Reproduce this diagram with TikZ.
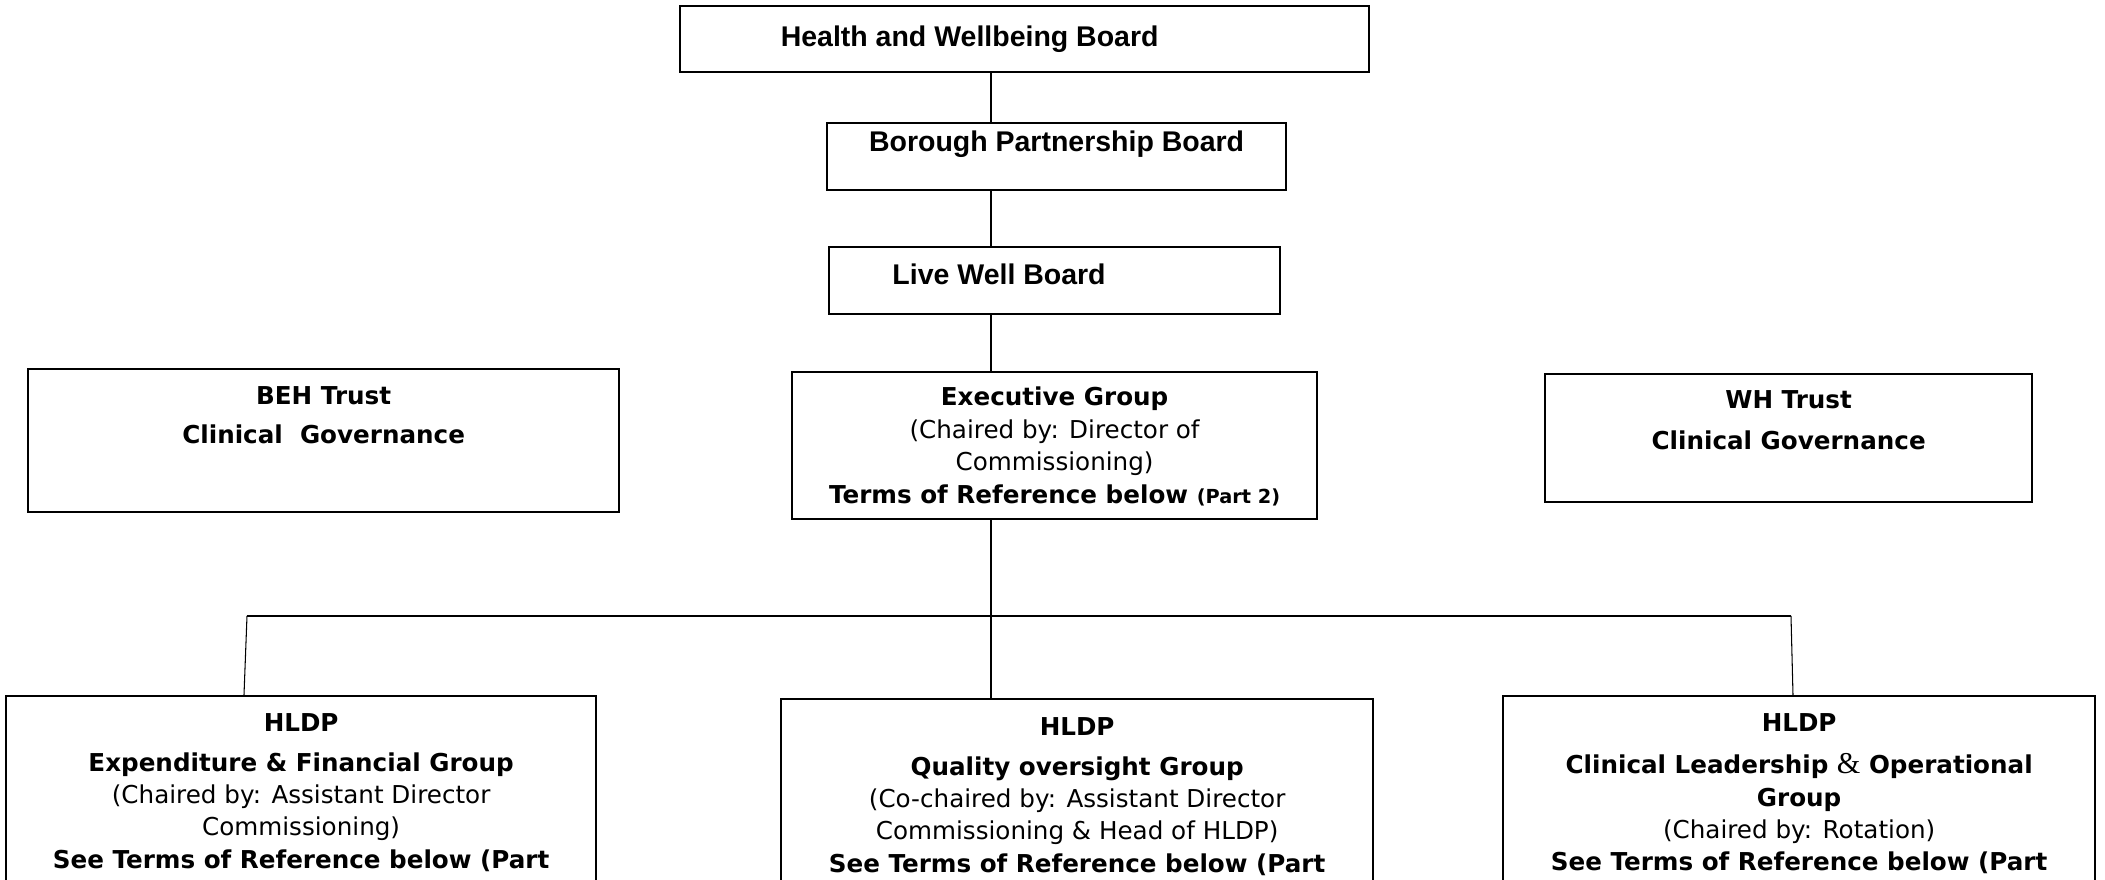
\documentclass[tikz,border=0pt]{standalone}
\usepackage{fontspec}
\setmainfont{DejaVu Sans}
\newfontfamily\boardfont{Liberation Sans}
\newfontfamily\ampfont{Liberation Serif}

% fixed size box text: width, height, first baseline from top, lines
\newcommand{\inbox}[4]{\parbox[c][#2][t]{#1}{\centering\rule{0pt}{#3}#4\par}}

\tikzset{
    orgbox/.style={draw, line width=0.55pt, inner sep=0pt, anchor=north west},
    board/.style={font=\boardfont\bfseries\fontsize{8.1}{9.7}\selectfont},
    group/.style={font=\fontsize{7}{9.2}\selectfont},
    link/.style={line width=0.3pt},
    bus/.style={line width=0.55pt},
}

\begin{document}
\begin{tikzpicture}[x=0.01cm, y=-0.01cm]
    \useasboundingbox (0,0) rectangle (2105,880);
    \clip (0,0) rectangle (2105,880);

    % boards on top
    \node[orgbox, board] (hwb) at (679,5) {\inbox{6.89cm}{0.66cm}{0.41cm}{\hspace*{-1.1cm}Health and Wellbeing Board}};
    \node[orgbox, board] (bpb) at (826,122) {\inbox{4.59cm}{0.67cm}{0.29cm}{Borough Partnership Board}};
    \node[orgbox, board] (lwb) at (828,246) {\inbox{4.51cm}{0.67cm}{0.38cm}{\hspace*{-1.11cm}Live Well Board}};

    % trusts and executive group
    \node[orgbox, group] (beh) at (27,368) {\inbox{5.91cm}{1.43cm}{0.36cm}{\textbf{BEH Trust}\\[1.8pt]\textbf{Clinical\ \ Governance}}};
    \node[orgbox, group] (exec) at (791,371) {\inbox{5.25cm}{1.47cm}{0.34cm}{\textbf{Executive Group}\\
        (Chaired by: Director of\\
        Commissioning)\\
        \textbf{Terms of Reference below {\fontsize{5.5}{9.2}\selectfont (Part 2)}}}};
    \node[orgbox, group] (wh) at (1544,373) {\inbox{4.87cm}{1.28cm}{0.35cm}{\textbf{WH Trust}\\[2.2pt]\textbf{Clinical Governance}}};

    % HLDP groups
    \node[orgbox, group] (efg) at (5,695) {\inbox{5.90cm}{2.5cm}{0.36cm}{\textbf{HLDP}\\[1.9pt]
        \textbf{Expenditure \& Financial Group}\\
        (Chaired by: Assistant Director\\
        Commissioning)\\
        \textbf{See Terms of Reference below (Part}}};
    \node[orgbox, group] (qog) at (780,698) {\inbox{5.92cm}{2.5cm}{0.37cm}{\textbf{HLDP}\\[1.9pt]
        \textbf{Quality oversight Group}\\
        (Co-chaired by: Assistant Director\\
        Commissioning \& Head of HLDP)\\
        \textbf{See Terms of Reference below (Part}}};
    \node[orgbox, group] (clo) at (1502,695) {\inbox{5.92cm}{2.5cm}{0.36cm}{\textbf{HLDP}\\[2.7pt]
        \textbf{Clinical Leadership {\ampfont\mdseries\fontsize{8.6}{9.2}\selectfont\&} Operational}\\
        \textbf{Group}\\
        (Chaired by: Rotation)\\
        \textbf{See Terms of Reference below (Part}}};

    % connectors
    \coordinate (trunk) at (991,0);
    \coordinate (bus) at (991,616);
    \coordinate (busl) at (247,616);
    \coordinate (busr) at (1791,616);

    \draw[link] (hwb.south -| trunk) -- (bpb.north -| trunk);
    \draw[link] (bpb.south -| trunk) -- (lwb.north -| trunk);
    \draw[link] (lwb.south -| trunk) -- (exec.north -| trunk);
    \draw[link] (exec.south -| trunk) -- (bus);
    \draw[bus] (busl) -- (busr);
    \draw[link] (busl) -- ([xshift=-0.03cm]busl |- efg.north);
    \draw[link] (bus) -- (bus |- qog.north);
    \draw[link] (busr) -- ([xshift=0.02cm]busr |- clo.north);
\end{tikzpicture}
\end{document}
